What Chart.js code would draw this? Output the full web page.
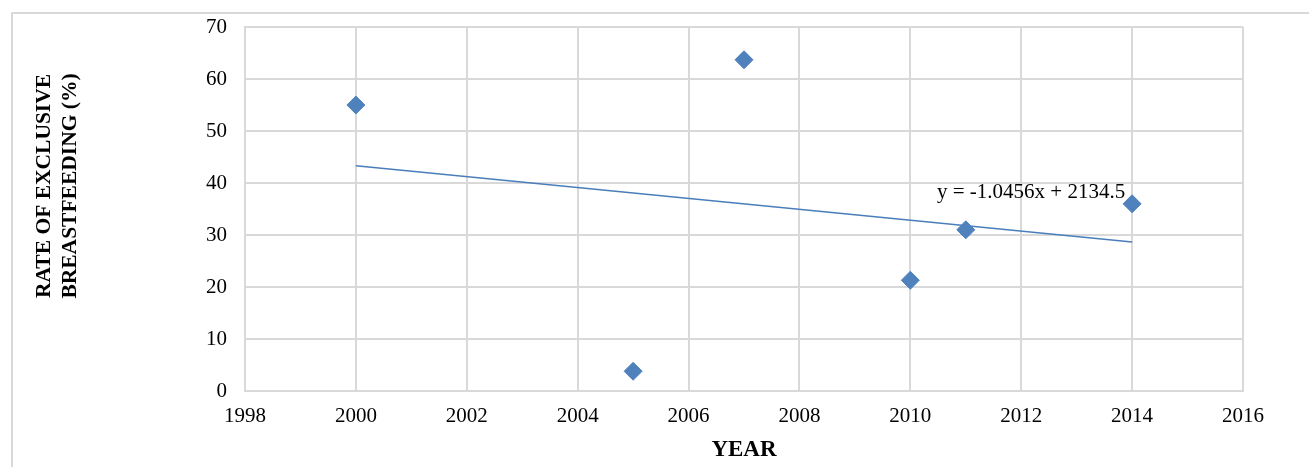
<!DOCTYPE html>
<html>
<head>
<meta charset="utf-8">
<title>Rate of exclusive breastfeeding by year</title>
<script src="https://cdn.jsdelivr.net/npm/chart.js@4.4.1/dist/chart.umd.min.js"></script>
<style>
  html, body { margin: 0; padding: 0; background: #ffffff; }
  #wrap { width: 1309px; height: 467px; position: relative; }
</style>
</head>
<body>
<div id="wrap"><canvas id="chart" width="1309" height="467"></canvas></div>
<script>
// Survey years and the measured rate of exclusive breastfeeding (%)
const years = [2000, 2005, 2007, 2010, 2011, 2014];
const rates = [55.0, 3.8, 63.7, 21.3, 31.0, 36.0];

// Linear trend fitted to the points
const trendSlope = -1.0456;
const trendIntercept = 2134.5;
const trendLabel = 'y = -1.0456x + 2134.5';
const trendSpan = [2000, 2014];

// Axis ranges
const xRange = [1998, 2016];
const xStep = 2;
const yRange = [0, 70];
const yStep = 10;

// Axis titles
const xTitle = 'YEAR';
const yTitleLines = ['RATE OF EXCLUSIVE', 'BREASTFEEDING (%)'];

const SERIF = '"Liberation Serif", "Times New Roman", serif';
const BLUE = '#4f81bd';
const GRID = '#d9d9d9';

const points = years.map((yr, i) => ({ x: yr, y: rates[i] }));
const trendPoints = trendSpan.map(yr => ({ x: yr, y: trendSlope * yr + trendIntercept }));

// Frame around the whole chart, the rotated y title and the trend equation
const decorations = {
  id: 'decorations',
  beforeDraw(chart) {
    const ctx = chart.ctx;
    ctx.save();
    ctx.strokeStyle = GRID;
    ctx.lineWidth = 2;
    ctx.strokeRect(12, 13, 1400, 600);
    ctx.restore();
  },
  afterDraw(chart) {
    const ctx = chart.ctx;
    const area = chart.chartArea;
    const cy = (area.top + area.bottom) / 2 - 23;
    ctx.save();
    ctx.fillStyle = '#000000';
    ctx.font = 'bold 21.5px ' + SERIF;
    ctx.textAlign = 'center';
    ctx.textBaseline = 'middle';
    const cols = [44, 70];
    yTitleLines.forEach((line, i) => {
      ctx.save();
      ctx.translate(cols[i], cy);
      ctx.rotate(-Math.PI / 2);
      ctx.fillText(line, 0, 0);
      ctx.restore();
    });
    // trend equation
    const xs = chart.scales.x, ys = chart.scales.y;
    ctx.font = '21px ' + SERIF;
    ctx.textAlign = 'left';
    ctx.textBaseline = 'alphabetic';
    ctx.fillText(trendLabel, xs.getPixelForValue(2010.48), ys.getPixelForValue(37.1));
    ctx.restore();
  }
};

new Chart(document.getElementById('chart'), {
  type: 'scatter',
  data: {
    datasets: [
      {
        label: 'Rate',
        data: points,
        pointStyle: 'rectRot',
        pointRadius: 9,
        pointHoverRadius: 9,
        backgroundColor: BLUE,
        borderColor: BLUE,
        borderWidth: 1
      },
      {
        type: 'line',
        label: 'Linear trend',
        data: trendPoints,
        borderColor: '#4a7ebb',
        borderWidth: 1.5,
        pointRadius: 0,
        fill: false,
        tension: 0
      }
    ]
  },
  options: {
    responsive: false,
    animation: false,
    devicePixelRatio: 1,
    layout: { padding: { left: 0, top: 27, right: 66, bottom: 0 } },
    plugins: {
      legend: { display: false },
      tooltip: { enabled: false },
      title: { display: false }
    },
    scales: {
      x: {
        type: 'linear',
        min: xRange[0],
        max: xRange[1],
        ticks: {
          stepSize: xStep,
          color: '#000000',
          font: { family: SERIF, size: 21 },
          padding: 13,
          maxRotation: 0,
          callback: v => String(v)
        },
        grid: { color: GRID, lineWidth: 2, drawTicks: false },
        border: { color: GRID, width: 2 },
        title: {
          display: true,
          text: xTitle,
          color: '#000000',
          font: { family: SERIF, size: 23, weight: 'bold' },
          padding: { top: 0, bottom: 3 }
        },
        afterFit(scale) { scale.height = 76; }
      },
      y: {
        min: yRange[0],
        max: yRange[1],
        ticks: {
          stepSize: yStep,
          color: '#000000',
          font: { family: SERIF, size: 21 },
          padding: 18
        },
        grid: { color: GRID, lineWidth: 2, drawTicks: false },
        border: { color: GRID, width: 2 },
        afterFit(scale) {
          scale.width = 245;
          scale.paddingTop = 0;
          scale.paddingBottom = 0;
        }
      }
    }
  },
  plugins: [decorations]
});
</script>
</body>
</html>
